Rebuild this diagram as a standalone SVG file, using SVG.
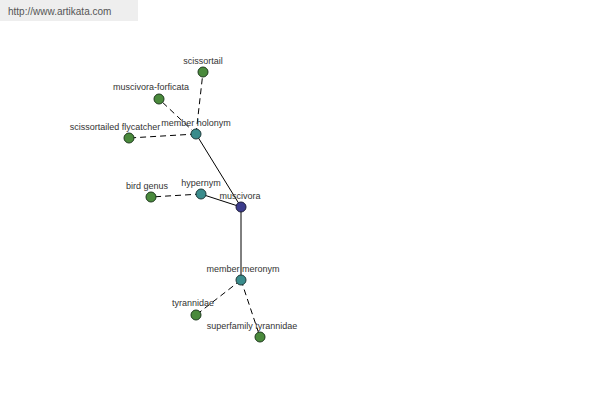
<svg xmlns="http://www.w3.org/2000/svg" width="600" height="400" viewBox="0 0 600 400">
<style>
text{font-family:"Liberation Sans",Arial,sans-serif;font-size:9px;fill:#333;text-anchor:middle}
.leaf{fill:#4a8a3c;stroke:#1e3a1e;stroke-width:1}
.hub{fill:#3a8c8c;stroke:#1e3a3a;stroke-width:1}
.root{fill:#3c3c8c;stroke:#1e1e3a;stroke-width:1}
.d{stroke:#000;stroke-width:1;stroke-dasharray:6,4;fill:none}
.s{stroke:#000;stroke-width:1;fill:none}
</style>
<rect width="600" height="400" fill="#fff"/>
<rect x="0" y="0" width="138" height="21" fill="#eeeeee"/>
<text x="8" y="15" style="font-size:10px;text-anchor:start;fill:#555">http://www.artikata.com</text>
<g id="connectors">
<line class="s" x1="241" y1="207" x2="196" y2="134"/>
<line class="s" x1="241" y1="207" x2="201" y2="194"/>
<line class="s" x1="241" y1="207" x2="241" y2="280"/>
<line class="d" x1="196" y1="134" x2="203" y2="72"/>
<line class="d" x1="196" y1="134" x2="159" y2="99"/>
<line class="d" x1="196" y1="134" x2="129" y2="138"/>
<line class="d" x1="201" y1="194" x2="151" y2="197"/>
<line class="d" x1="241" y1="280" x2="196" y2="315"/>
<line class="d" x1="241" y1="280" x2="260" y2="337"/>
</g>
<g id="n-scissortail"><circle class="leaf" cx="203" cy="72" r="5"/><text x="203" y="64">scissortail</text></g>
<g id="n-muscivora-forficata"><circle class="leaf" cx="159" cy="99" r="5"/><text x="151" y="90">muscivora-forficata</text></g>
<g id="n-scissortailed-flycatcher"><circle class="leaf" cx="129" cy="138" r="5"/><text x="115" y="130">scissortailed flycatcher</text></g>
<g id="n-member-holonym"><circle class="hub" cx="196" cy="134" r="5"/><text x="196" y="126">member holonym</text></g>
<g id="n-bird-genus"><circle class="leaf" cx="151" cy="197" r="5"/><text x="147" y="189">bird genus</text></g>
<g id="n-hypernym"><circle class="hub" cx="201" cy="194" r="5"/><text x="201" y="186">hypernym</text></g>
<g id="n-muscivora"><circle class="root" cx="241" cy="207" r="5"/><text x="240" y="199">muscivora</text></g>
<g id="n-member-meronym"><circle class="hub" cx="241" cy="280" r="5"/><text x="243" y="272">member meronym</text></g>
<g id="n-tyrannidae"><circle class="leaf" cx="196" cy="315" r="5"/><text x="193" y="306">tyrannidae</text></g>
<g id="n-superfamily-tyrannidae"><circle class="leaf" cx="260" cy="337" r="5"/><text x="252" y="329">superfamily tyrannidae</text></g>
</svg>
